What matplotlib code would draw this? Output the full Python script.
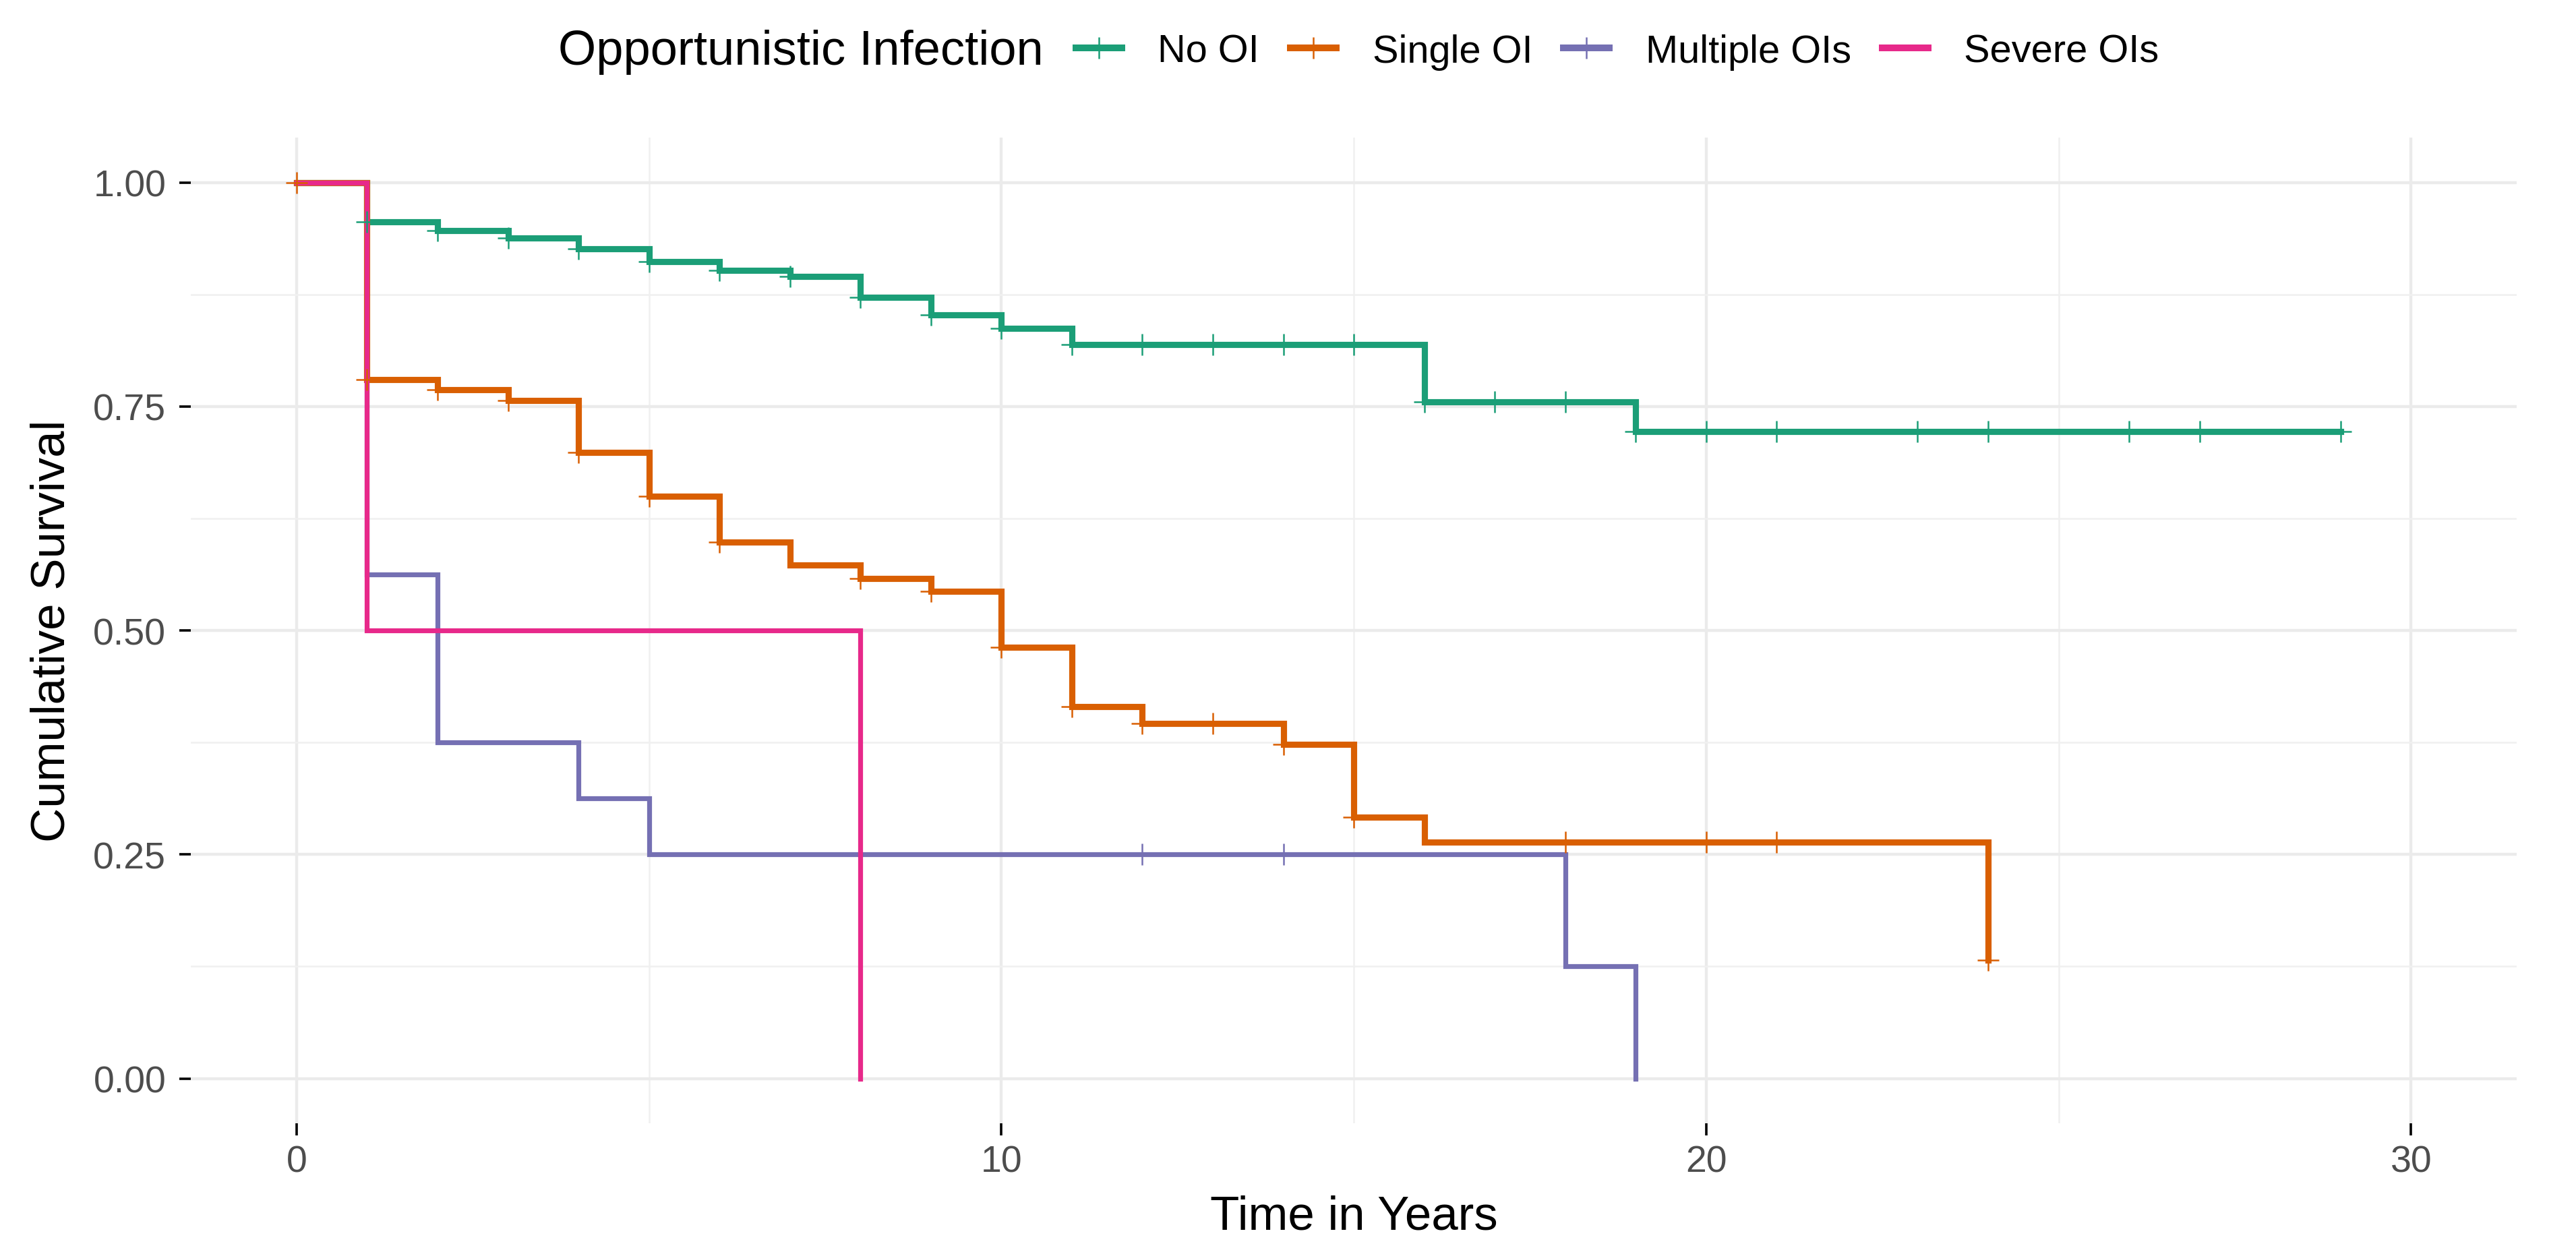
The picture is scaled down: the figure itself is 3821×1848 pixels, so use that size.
import matplotlib
matplotlib.use("Agg")
import matplotlib.pyplot as plt
from matplotlib.lines import Line2D
import numpy as np

plt.rcParams['font.family'] = ['Liberation Sans', 'DejaVu Sans']

# Kaplan-Meier step curves (time in years, survival)
groups = ['No OI', 'Single OI', 'Multiple OIs', 'Severe OIs']
colors = ['#1B9E77', '#D95F02', '#7570B3', '#E7298A']

no_oi_t = [0, 1, 2, 3, 4, 5, 6, 7, 8, 9, 10, 11, 16, 19, 29]
no_oi_s = [1.0, 0.956, 0.946, 0.938, 0.926, 0.912, 0.902, 0.895, 0.872,
           0.852, 0.837, 0.819, 0.755, 0.722, 0.722]
no_oi_cens = [1, 2, 3, 4, 5, 6, 7, 8, 9, 10, 11, 12, 13, 14, 15, 16, 17, 18,
              19, 20, 21, 23, 24, 26, 27, 29]

single_t = [0, 1, 2, 3, 4, 5, 6, 7, 8, 9, 10, 11, 12, 14, 15, 16, 24]
single_s = [1.0, 0.780, 0.769, 0.757, 0.699, 0.650, 0.599, 0.573, 0.558,
            0.544, 0.481, 0.415, 0.396, 0.373, 0.292, 0.264, 0.132]
single_cens = [0, 1, 2, 3, 4, 5, 6, 8, 9, 10, 11, 12, 13, 14, 15, 18, 20, 21, 24]

multi_t = [0, 1, 2, 4, 5, 18, 19]
multi_s = [1.0, 0.5625, 0.375, 0.3125, 0.25, 0.125, 0.0]
multi_cens = [12, 14]

severe_t = [0, 1, 8]
severe_s = [1.0, 0.5, 0.0]
severe_cens = []

curves = [(no_oi_t, no_oi_s, no_oi_cens),
          (single_t, single_s, single_cens),
          (multi_t, multi_s, multi_cens),
          (severe_t, severe_s, severe_cens)]
line_widths = [3.3, 3.3, 2.6, 2.6]


def surv_at(t, s, when):
    # survival value of the step curve at the censoring times
    idx = np.searchsorted(t, when, side='right') - 1
    return np.asarray(s)[idx]


fig = plt.figure(figsize=(19.105, 9.245), dpi=200)
ax = fig.add_axes([0.0741, 0.0984, 0.9029, 0.7906])

# grid like theme_minimal
ax.set_xlim(-1.5, 31.5)
ax.set_ylim(-0.05, 1.05)
ax.set_xticks([0, 10, 20, 30])
ax.set_xticks([5, 15, 25], minor=True)
ax.set_yticks([0, 0.25, 0.5, 0.75, 1.0])
ax.set_yticklabels(['0.00', '0.25', '0.50', '0.75', '1.00'])
ax.set_yticks([0.125, 0.375, 0.625, 0.875], minor=True)
ax.grid(True, which='major', color='#EBEBEB', linewidth=1.6)
ax.grid(True, which='minor', color='#F0F0F0', linewidth=0.9)
ax.set_axisbelow(True)
for sp in ax.spines.values():
    sp.set_visible(False)
ax.tick_params(which='major', length=6.3, width=1.3, color='black',
               labelcolor='#4D4D4D', labelsize=20)
ax.tick_params(axis='x', pad=5)
ax.tick_params(axis='y', pad=7)
ax.tick_params(which='minor', length=0)

# step lines first, then the censoring marks on top
for (t, s, c), col, lw in zip(curves, colors, line_widths):
    ax.step(t, s, where='post', color=col, linewidth=lw,
            solid_joinstyle='miter', zorder=2)
for (t, s, c), col in zip(curves, colors):
    if len(c) > 0:
        ax.plot(c, surv_at(t, s, c), linestyle='none', marker='+',
                markersize=11.5, markeredgewidth=0.9, color=col, zorder=3)

ax.set_xlabel('Time in Years', fontsize=25.5, labelpad=8)
ax.set_ylabel('Cumulative Survival', fontsize=25.5, labelpad=10)

# legend on top, title to the left of the keys
handles = []
for g, col, (t, s, c) in zip(groups, colors, curves):
    if len(c) > 0:
        handles.append(Line2D([], [], color=col, linewidth=3.6, marker='+',
                              markersize=11.5, markeredgewidth=0.9))
    else:
        handles.append(Line2D([], [], color=col, linewidth=3.6))
fig.text(0.405, 0.958, 'Opportunistic Infection', ha='right', va='center',
         fontsize=26)
fig.legend(handles, groups, loc='center left', bbox_to_anchor=(0.4177, 0.958),
           ncol=4, frameon=False, handlelength=1.18, handletextpad=0.92,
           columnspacing=0.8, borderpad=0, borderaxespad=0, fontsize=20.8)

fig.savefig('out.png', dpi=200, facecolor='white')
